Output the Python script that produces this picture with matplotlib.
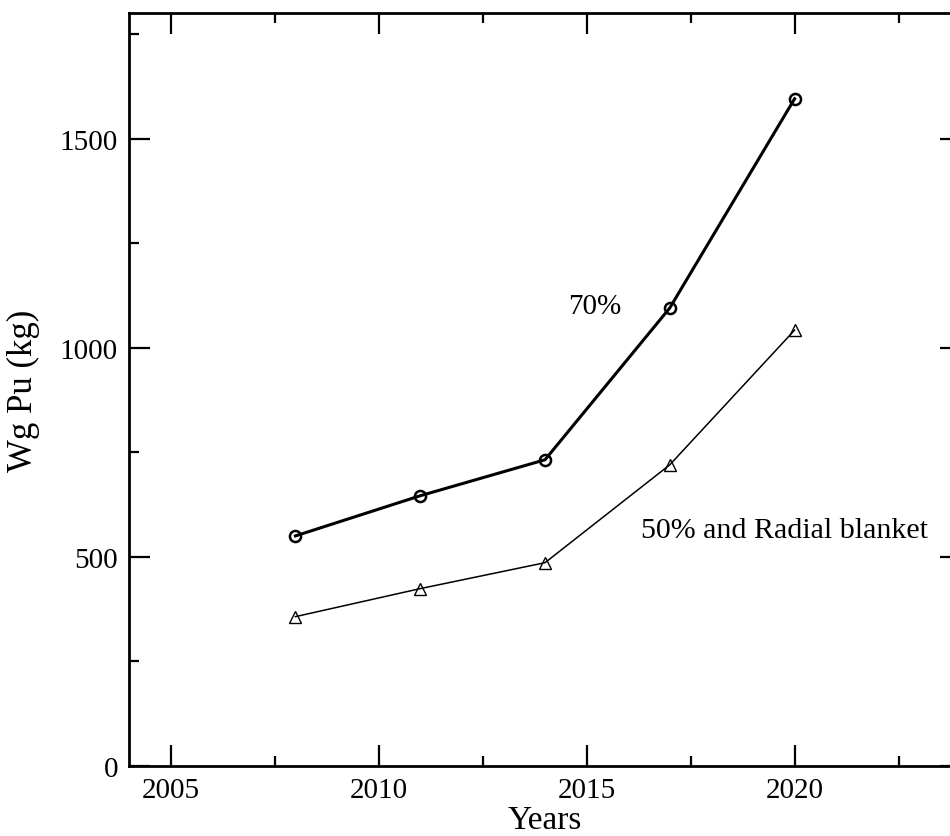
import numpy as np
import matplotlib.pyplot as plt
from matplotlib.ticker import MultipleLocator

plt.rcParams['font.family'] = ['Liberation Serif', 'DejaVu Serif']

years = [2008, 2011, 2014, 2017, 2020]
pu_70 = [550, 646, 732, 1095, 1595]
pu_50_radial = [357, 424, 486, 720, 1042]

fig = plt.figure(figsize=(9.5, 8.37), dpi=100)
# axes run past the right edge of the figure, as in the cropped original
ax = fig.add_axes([129 / 950, 70 / 837, (961 - 129) / 950, 753 / 837])

ax.plot(years, pu_70, color='black', lw=2.2, marker='o', ms=8,
        mfc='none', mec='black', mew=1.8)
ax.plot(years, pu_50_radial, color='black', lw=1.1, marker='^', ms=8,
        mfc='none', mec='black', mew=1.0)

ax.text(2014.55, 1100, '70%', fontsize=21, va='center', ha='left')
ax.text(2016.3, 565, '50% and Radial blanket', fontsize=21.6, va='center', ha='left')

ax.set_xlim(2004, 2024)
ax.set_ylim(0, 1800)
ax.xaxis.set_major_locator(MultipleLocator(5))
ax.xaxis.set_minor_locator(MultipleLocator(2.5))
ax.yaxis.set_major_locator(MultipleLocator(500))
ax.yaxis.set_minor_locator(MultipleLocator(250))
ax.tick_params(which='both', direction='in', top=True, right=True,
               labelsize=21, width=1.6)
ax.tick_params(which='major', length=15, pad=8)
ax.tick_params(which='minor', length=7)
for s in ax.spines.values():
    s.set_linewidth(2)

# x label sits at the very bottom edge of the picture
fig.text(545 / 950, 1 / 837, 'Years', fontsize=24, ha='center', va='bottom')
ax.set_ylabel('Wg Pu (kg)', fontsize=25, labelpad=14)

fig.savefig('out.png', dpi=100)
